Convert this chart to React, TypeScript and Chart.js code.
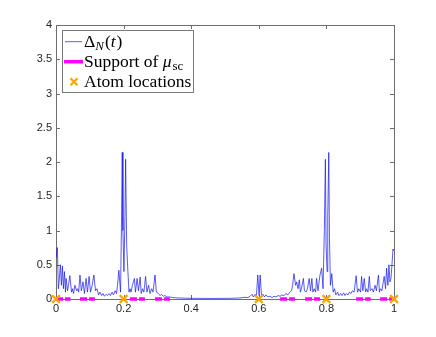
import React, { useEffect, useRef } from "react";
import { Chart, registerables } from "chart.js";
Chart.register(...registerables);

// Δ_N(t) samples
const deltaT = [
  0, 0.004, 0.007, 0.010, 0.013, 0.016, 0.019, 0.022, 0.025, 0.028,
  0.030, 0.034, 0.037, 0.041, 0.046, 0.049, 0.052, 0.056, 0.061, 0.064,
  0.067, 0.071, 0.075, 0.080, 0.084, 0.089, 0.093, 0.098, 0.102, 0.107,
  0.112, 0.117, 0.121, 0.126, 0.130, 0.135, 0.139, 0.143, 0.148, 0.152,
  0.157, 0.161, 0.166, 0.170, 0.175, 0.179, 0.182, 0.186, 0.191, 0.194,
  0.196, 0.198, 0.201, 0.204, 0.206, 0.209, 0.212, 0.216, 0.219, 0.222,
  0.226, 0.232, 0.235, 0.240, 0.244, 0.249, 0.252, 0.256, 0.260, 0.265,
  0.269, 0.274, 0.278, 0.283, 0.287, 0.293, 0.297, 0.303, 0.308, 0.312,
  0.317, 0.322, 0.328, 0.337, 0.346, 0.361, 0.396, 0.456, 0.515, 0.544,
  0.559, 0.568, 0.574, 0.580, 0.584, 0.589, 0.593, 0.597, 0.601, 0.604,
  0.608, 0.612, 0.617, 0.621, 0.627, 0.633, 0.639, 0.645, 0.651, 0.657,
  0.663, 0.669, 0.675, 0.680, 0.686, 0.692, 0.697, 0.700, 0.704, 0.709,
  0.712, 0.716, 0.720, 0.723, 0.726, 0.732, 0.735, 0.740, 0.744, 0.749,
  0.753, 0.757, 0.760, 0.764, 0.768, 0.771, 0.775, 0.781, 0.786, 0.790,
  0.794, 0.797, 0.799, 0.802, 0.804, 0.807, 0.809, 0.812, 0.816, 0.820,
  0.824, 0.828, 0.833, 0.837, 0.842, 0.846, 0.851, 0.855, 0.859, 0.864,
  0.868, 0.873, 0.877, 0.882, 0.888, 0.892, 0.896, 0.901, 0.904, 0.908,
  0.912, 0.916, 0.919, 0.923, 0.927, 0.930, 0.935, 0.939, 0.944, 0.948,
  0.954, 0.957, 0.960, 0.964, 0.971, 0.975, 0.978, 0.982, 0.985, 0.988,
  0.991, 0.994, 0.997, 1.0,
];
const deltaV = [
  0.60, 0.75, 0.15, 0.30, 0.50, 0.20, 0.48, 0.15, 0.40, 0.10,
  0.30, 0.12, 0.20, 0.34, 0.10, 0.15, 0.08, 0.20, 0.12, 0.15,
  0.10, 0.35, 0.12, 0.25, 0.08, 0.30, 0.10, 0.33, 0.10, 0.20,
  0.35, 0.12, 0.15, 0.06, 0.10, 0.05, 0.08, 0.04, 0.07, 0.05,
  0.08, 0.05, 0.10, 0.06, 0.12, 0.08, 0.20, 0.42, 0.10, 1.20,
  2.14, 1.00, 0.40, 1.20, 2.04, 0.80, 0.47, 0.10, 0.15, 0.10,
  0.20, 0.30, 0.10, 0.30, 0.12, 0.32, 0.08, 0.15, 0.10, 0.33,
  0.10, 0.20, 0.08, 0.15, 0.10, 0.35, 0.10, 0.08, 0.05, 0.07,
  0.04, 0.05, 0.03, 0.03, 0.02, 0.015, 0.01, 0.008, 0.01, 0.015,
  0.025, 0.02, 0.04, 0.07, 0.03, 0.07, 0.05, 0.35, 0.05, 0.35,
  0.05, 0.07, 0.03, 0.06, 0.03, 0.04, 0.02, 0.04, 0.03, 0.05,
  0.04, 0.06, 0.05, 0.08, 0.06, 0.10, 0.12, 0.20, 0.37, 0.20,
  0.25, 0.15, 0.28, 0.10, 0.15, 0.30, 0.12, 0.10, 0.15, 0.30,
  0.12, 0.30, 0.10, 0.15, 0.10, 0.30, 0.12, 0.35, 0.45, 0.15,
  1.00, 2.04, 0.80, 0.40, 1.20, 2.14, 0.90, 0.20, 0.37, 0.10,
  0.15, 0.06, 0.10, 0.05, 0.08, 0.05, 0.09, 0.05, 0.08, 0.06,
  0.10, 0.08, 0.12, 0.10, 0.34, 0.10, 0.15, 0.10, 0.33, 0.12,
  0.30, 0.10, 0.15, 0.10, 0.33, 0.12, 0.15, 0.10, 0.20, 0.12,
  0.35, 0.10, 0.15, 0.12, 0.33, 0.15, 0.45, 0.20, 0.50, 0.25,
  0.30, 0.50, 0.73, 0.70,
];

// Support of μ_sc (interval starts / ends)
const supportStart = [0, 0.071, 0.219, 0.293, 0.663, 0.737, 0.888, 0.959];
const supportEnd = [0.043, 0.115, 0.263, 0.337, 0.707, 0.781, 0.931, 1.0];

// Atom locations
const atomLocations = [0, 0.2, 0.6, 0.8, 1];

const xTicks = [0, 0.2, 0.4, 0.6, 0.8, 1];
const yTicks = [0, 0.5, 1, 1.5, 2, 2.5, 3, 3.5, 4];

const AXIS_COLOR = "#6e6e6e";
const LINE_COLOR = "rgb(20,20,235)";
const SUPPORT_COLOR = "#ff00ff";
const ATOM_COLOR = "#ffa500";
const SERIF = "'Liberation Serif', 'Times New Roman', serif";

type Run = { text: string; italic?: boolean; size?: number; dy?: number };

function drawRuns(ctx: CanvasRenderingContext2D, x: number, y: number, runs: Run[]) {
  let cx = x;
  for (const r of runs) {
    ctx.font = `${r.italic ? "italic " : ""}${r.size ?? 17.5}px ${SERIF}`;
    ctx.fillText(r.text, cx, y + (r.dy ?? 0));
    cx += ctx.measureText(r.text).width + (r.italic ? 1 : 0);
  }
}

const boxPlugin = {
  id: "boxTicks",
  beforeDatasetsDraw(chart: any) {
    const { ctx, chartArea } = chart;
    const { left, right, top, bottom } = chartArea;
    const xs = chart.scales.x;
    const ys = chart.scales.y;
    ctx.save();
    ctx.strokeStyle = AXIS_COLOR;
    ctx.lineWidth = 1;
    ctx.strokeRect(Math.round(left) + 0.5, Math.round(top) + 0.5, Math.round(right - left), Math.round(bottom - top));
    const tl = 4;
    ctx.beginPath();
    for (const v of xTicks) {
      const px = Math.round(xs.getPixelForValue(v)) + 0.5;
      ctx.moveTo(px, bottom);
      ctx.lineTo(px, bottom - tl);
      ctx.moveTo(px, top);
      ctx.lineTo(px, top + tl);
    }
    for (const v of yTicks) {
      const py = Math.round(ys.getPixelForValue(v)) + 0.5;
      ctx.moveTo(left, py);
      ctx.lineTo(left + tl, py);
      ctx.moveTo(right, py);
      ctx.lineTo(right - tl, py);
    }
    ctx.stroke();
    ctx.restore();
  },
  afterDraw(chart: any) {
    const ctx: CanvasRenderingContext2D = chart.ctx;
    ctx.save();
    // legend box
    ctx.fillStyle = "#ffffff";
    ctx.fillRect(62.5, 30.5, 131, 62);
    ctx.strokeStyle = "#7a7a7a";
    ctx.lineWidth = 1;
    ctx.strokeRect(62.5, 30.5, 131, 62);
    // row 1 sample
    ctx.strokeStyle = LINE_COLOR;
    ctx.lineWidth = 0.7;
    ctx.beginPath();
    ctx.moveTo(65, 41.7);
    ctx.lineTo(82, 41.7);
    ctx.stroke();
    // row 2 sample
    ctx.strokeStyle = SUPPORT_COLOR;
    ctx.lineWidth = 3.5;
    ctx.beginPath();
    ctx.moveTo(64, 61.7);
    ctx.lineTo(83, 61.7);
    ctx.stroke();
    // row 3 sample
    ctx.strokeStyle = ATOM_COLOR;
    ctx.lineWidth = 2.2;
    ctx.beginPath();
    ctx.moveTo(70.5, 78.2);
    ctx.lineTo(77.5, 85.2);
    ctx.moveTo(77.5, 78.2);
    ctx.lineTo(70.5, 85.2);
    ctx.stroke();
    // texts
    ctx.fillStyle = "#000000";
    ctx.textBaseline = "alphabetic";
    ctx.textAlign = "left";
    drawRuns(ctx, 84, 46.5, [
      { text: "Δ" },
      { text: "N", italic: true, size: 13, dy: 3.5 },
      { text: "(" },
      { text: "t", italic: true },
      { text: ")" },
    ]);
    drawRuns(ctx, 84, 66.5, [
      { text: "Support of " },
      { text: "μ", italic: true },
      { text: "sc", size: 13, dy: 3.5 },
    ]);
    drawRuns(ctx, 84, 86.5, [{ text: "Atom locations" }]);
    ctx.restore();
  },
};

export default function App() {
  const ref = useRef<HTMLCanvasElement | null>(null);
  useEffect(() => {
    if (!ref.current) return;
    const deltaData = deltaT.map((t, i) => ({ x: t, y: deltaV[i] }));
    const supportData: { x: number; y: number | null }[] = [];
    supportStart.forEach((a, i) => {
      supportData.push({ x: a, y: 0 });
      supportData.push({ x: supportEnd[i], y: 0 });
      supportData.push({ x: supportEnd[i], y: null });
    });
    const atomData = atomLocations.map((t) => ({ x: t, y: 0 }));
    const chart = new Chart(ref.current, {
      type: "line",
      data: {
        datasets: [
          {
            label: "atoms",
            data: atomData,
            showLine: false,
            pointStyle: "crossRot",
            pointRadius: 5.5,
            pointBorderWidth: 2.2,
            borderColor: ATOM_COLOR,
            backgroundColor: ATOM_COLOR,
            clip: false as any,
            order: 0,
          },
          {
            label: "support",
            data: supportData,
            borderColor: SUPPORT_COLOR,
            borderWidth: 3.5,
            borderDash: [7, 2],
            pointRadius: 0,
            spanGaps: false,
            clip: false as any,
            order: 1,
          },
          {
            label: "delta",
            data: deltaData,
            borderColor: LINE_COLOR,
            borderWidth: 0.7,
            pointRadius: 0,
            tension: 0,
            order: 2,
          },
        ],
      },
      options: {
        responsive: false,
        animation: false,
        events: [],
        layout: { padding: { left: 0, top: 25, right: 42, bottom: 0 } },
        plugins: { legend: { display: false }, tooltip: { enabled: false } },
        scales: {
          x: {
            type: "linear",
            min: 0,
            max: 1,
            grid: { display: false, drawTicks: false },
            border: { display: false },
            afterFit: (s: any) => {
              s.height = 38;
            },
            afterBuildTicks: (s: any) => {
              s.ticks = xTicks.map((v) => ({ value: v }));
            },
            ticks: {
              padding: 3,
              color: "#262626",
              font: { family: "'Liberation Sans', Arial, sans-serif", size: 11 },
              maxRotation: 0,
              callback: (v: any) => String(v),
            },
          },
          y: {
            type: "linear",
            min: 0,
            max: 4,
            grid: { display: false, drawTicks: false },
            border: { display: false },
            afterFit: (s: any) => {
              s.width = 56;
            },
            afterBuildTicks: (s: any) => {
              s.ticks = yTicks.map((v) => ({ value: v }));
            },
            ticks: {
              padding: 4,
              color: "#262626",
              font: { family: "'Liberation Sans', Arial, sans-serif", size: 11 },
              callback: (v: any) => String(v),
            },
          },
        },
      },
      plugins: [boxPlugin],
    });
    return () => chart.destroy();
  }, []);
  return (
    <div style={{ position: "fixed", left: 0, top: 0, width: 436, height: 337, background: "#fff" }}>
      <canvas ref={ref} width={436} height={337} style={{ display: "block", width: 436, height: 337 }} />
    </div>
  );
}
